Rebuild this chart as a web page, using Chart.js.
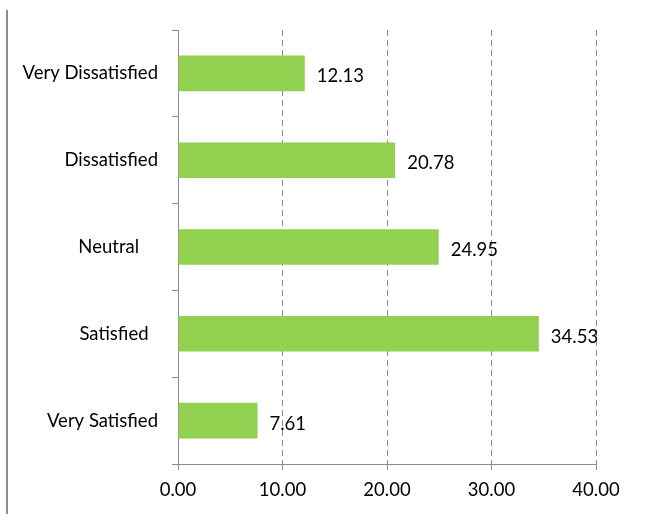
<!DOCTYPE html>
<html>
<head>
<meta charset="utf-8">
<script src="https://cdn.jsdelivr.net/npm/chart.js@4.4.0/dist/chart.umd.min.js"></script>
<style>
  html, body { margin: 0; padding: 0; background: #fff; }
  #wrap { width: 650px; height: 514px; position: relative; }
</style>
</head>
<body>
<div id="wrap"><canvas id="c" width="650" height="514"></canvas></div>
<script>
const categories = ["Very Dissatisfied", "Dissatisfied", "Neutral    ", "Satisfied  ", "Very Satisfied"];
const values = [12.13, 20.78, 24.95, 34.53, 7.61];
const xTicks = [0, 10, 20, 30, 40];

const FONT = "Lato, 'Open Sans', sans-serif";
const FSIZE = 18.5;

const frameLine = {
  id: 'frameLine',
  beforeDraw(chart) {
    const ctx = chart.ctx;
    ctx.save();
    ctx.strokeStyle = '#8c8c8c';
    ctx.lineWidth = 2;
    ctx.beginPath();
    ctx.moveTo(7, 10);
    ctx.lineTo(7, 514);
    ctx.stroke();
    ctx.restore();
  }
};

const valueLabels = {
  id: 'valueLabels',
  afterDatasetsDraw(chart) {
    const ctx = chart.ctx;
    const meta = chart.getDatasetMeta(0);
    ctx.save();
    ctx.fillStyle = '#000';
    ctx.font = FSIZE + "px " + FONT;
    ctx.textAlign = 'left';
    ctx.textBaseline = 'middle';
    meta.data.forEach((el, i) => {
      ctx.fillText(values[i].toFixed(2), el.x + 12, el.y + 3);
    });
    ctx.restore();
  }
};

new Chart(document.getElementById('c'), {
  type: 'bar',
  data: {
    labels: categories,
    datasets: [{
      data: values,
      backgroundColor: '#92D050',
      borderWidth: 0,
      barPercentage: 0.41,
      categoryPercentage: 1.0
    }]
  },
  options: {
    indexAxis: 'y',
    responsive: false,
    animation: false,
    layout: { padding: { top: 30, right: 54, left: 0, bottom: 0 } },
    plugins: { legend: { display: false }, tooltip: { enabled: false } },
    scales: {
      x: {
        min: 0, max: 40,
        afterBuildTicks(scale) { scale.ticks = xTicks.map(v => ({ value: v })); },
        afterFit(scale) { scale.height = 50; },
        border: { display: true, color: '#8c8c8c', width: 1, dash: [6, 4] },
        grid: {
          color: '#8c8c8c',
          lineWidth: 1,
          drawTicks: true,
          tickLength: 6,
          tickColor: '#8c8c8c',
          tickBorderDash: []
        },
        ticks: {
          color: '#000',
          font: { family: FONT, size: FSIZE },
          padding: 9,
          callback: (v) => Number(v).toFixed(2)
        }
      },
      y: {
        afterFit(scale) { scale.width = 178; },
        offset: true,
        border: { display: true, color: '#8c8c8c', width: 1 },
        grid: {
          offset: true,
          drawOnChartArea: false,
          drawTicks: true,
          tickLength: 6,
          color: '#8c8c8c'
        },
        ticks: {
          color: '#000',
          font: { family: FONT, size: FSIZE },
          padding: 14
        }
      }
    }
  },
  plugins: [frameLine, valueLabels]
});
</script>
</body>
</html>
